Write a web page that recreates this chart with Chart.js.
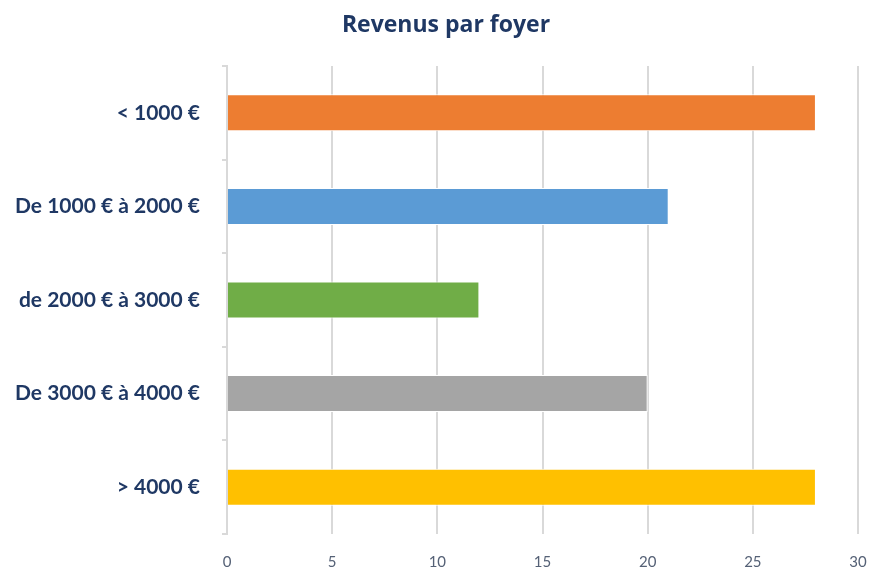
<!DOCTYPE html>
<html>
<head>
<meta charset="utf-8">
<script src="https://cdn.jsdelivr.net/npm/chart.js@4/dist/chart.umd.min.js"></script>
<style>
html,body{margin:0;padding:0;background:#fff;}
#wrap{width:870px;height:569px;position:relative;}
</style>
</head>
<body>
<div id="wrap"><canvas id="c" width="870" height="569"></canvas></div>
<script>
const categories = ["< 1000 €", "De 1000 € à 2000 €", "de 2000 € à 3000 €", "De 3000 € à 4000 €", "> 4000 €"];
const values = [28, 21, 12, 20, 28];
const barColors = ["#ED7D31", "#5B9BD5", "#70AD47", "#A5A5A5", "#FFC000"];
const chartTitle = "Revenus par foyer";

const titleShift = {
  id: 'titleShift',
  afterLayout(chart) {
    if (chart.titleBlock) { chart.titleBlock.left = 34; }
  }
};

new Chart(document.getElementById('c'), {
  type: 'bar',
  data: {
    labels: categories,
    datasets: [{
      data: values,
      backgroundColor: barColors,
      borderColor: '#ffffff',
      borderWidth: 1,
      categoryPercentage: 1,
      barPercentage: 0.395
    }]
  },
  options: {
    indexAxis: 'y',
    responsive: false,
    animation: false,
    devicePixelRatio: 1,
    layout: { padding: { left: 0, right: 12, top: 0, bottom: 0 } },
    plugins: {
      legend: { display: false },
      tooltip: { enabled: false },
      title: {
        display: true,
        text: chartTitle,
        color: '#1F3864',
        font: { family: 'Open Sans', size: 23, weight: 'bold' },
        padding: { top: 12, bottom: 26.4 }
      }
    },
    scales: {
      x: {
        min: 0, max: 30,
        ticks: { stepSize: 5, color: '#556176', font: { family: 'Lato', size: 15 }, padding: 19 },
        grid: { color: '#D9D9D9', lineWidth: 2, drawTicks: false },
        border: { display: false },
        afterFit: (s) => { s.height = 35; s.paddingLeft = 0; s.paddingRight = 0; }
      },
      y: {
        ticks: { color: '#1F3864', font: { family: 'Lato', size: 21, weight: 'bold' }, padding: 22 },
        grid: { drawOnChartArea: false, drawTicks: true, tickLength: 5, color: '#D9D9D9', lineWidth: 2, offset: true },
        border: { display: true, color: '#D9D9D9', width: 2 },
        afterFit: (s) => { s.width = 227; }
      }
    }
  },
  plugins: [titleShift]
});
</script>
</body>
</html>
